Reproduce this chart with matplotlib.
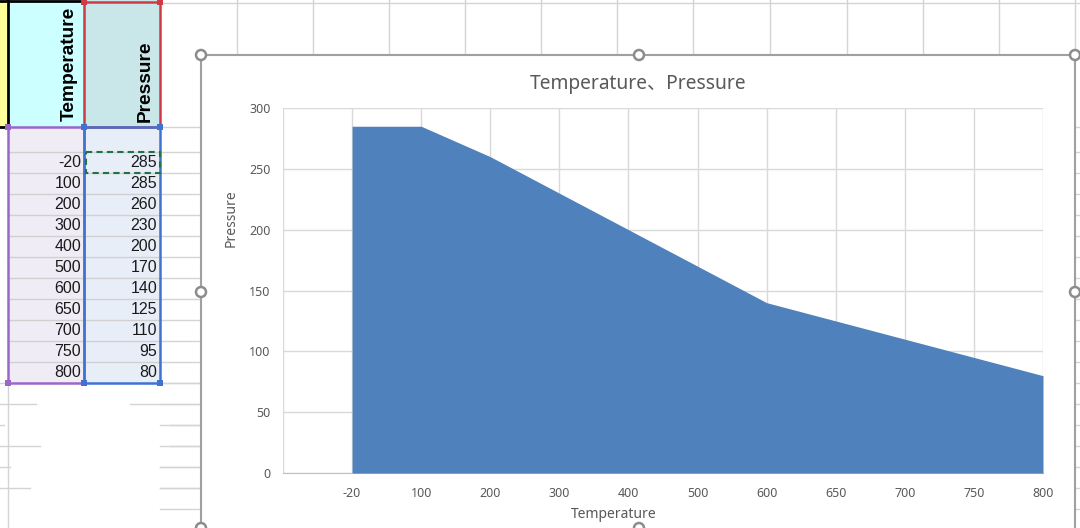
import numpy as np
import matplotlib.pyplot as plt
from matplotlib.patches import Rectangle, Circle

# 表格数据（从截图读取）
temperature = [-20, 100, 200, 300, 400, 500, 600, 650, 700, 750, 800]
pressure = [285, 285, 260, 230, 200, 170, 140, 125, 110, 95, 80]
y_ticks = [0, 50, 100, 150, 200, 250, 300]

W, H = 1080, 528
fig = plt.figure(figsize=(W / 100, H / 100), dpi=100)

# 背景：用像素坐标画 Excel 表格
bg = fig.add_axes([0, 0, 1, 1])
bg.set_xlim(0, W)
bg.set_ylim(H, 0)
bg.axis("off")

grid_c = "#d4d4d4"
row_h = 21
row0 = 152
rows = [row0 + i * row_h for i in range(len(temperature) + 7)]

# 工作表网格线
for x in [237, 313, 389, 465, 541, 617, 693, 770, 847, 923, 999, 1075]:
    bg.plot([x, x], [0, 55], color=grid_c, lw=1, zorder=1)
bg.plot([160, W], [3, 3], color=grid_c, lw=1, zorder=1)
for y in [127] + rows:
    bg.plot([160, 201], [y, y], color=grid_c, lw=1, zorder=1)
    bg.plot([1075, W], [y, y], color=grid_c, lw=1, zorder=1)
# 表格下方残缺的网格线
for y, segs in zip(rows[11:], [[(0, 4), (150, 200)], [(0, 36), (130, 200)],
                                 [(0, 4), (170, 200)], [(0, 40), (170, 200)],
                                 [(0, 10), (160, 200)], [(0, 30), (160, 200)]]):
    for a, b in segs:
        bg.plot([a, b], [y, y], color=grid_c, lw=1, zorder=1)
bg.plot([8, 8], [385, H], color=grid_c, lw=1, zorder=1)

# 表头
bg.add_patch(Rectangle((0, 0), 8, 127, fc="#ffff99", ec="none", zorder=2))
bg.add_patch(Rectangle((8, 0), 76, 127, fc="#ccffff", ec="none", zorder=2))
bg.add_patch(Rectangle((84, 0), 76, 127, fc="#c9e7e8", ec="none", zorder=2))
bg.plot([0, 84], [1, 1], color="black", lw=2, zorder=4)
bg.plot([8, 8], [0, 127], color="black", lw=2, zorder=4)
bg.plot([0, 8], [127, 127], color="black", lw=2, zorder=4)
bg.text(69, 121, "Temperature", rotation=90, ha="center", va="bottom",
        fontsize=13.8, fontweight="bold", family="Liberation Sans", zorder=5)
bg.text(145, 122, "Pressure", rotation=90, ha="center", va="bottom",
        fontsize=13.8, fontweight="bold", family="Liberation Sans", zorder=5)

# 数据区
n = len(temperature)
top, bot = 127, row0 + n * row_h
bg.add_patch(Rectangle((8, top), 76, bot - top, fc="#f0ecf5", ec="none", zorder=2))
bg.add_patch(Rectangle((84, top), 76, bot - top, fc="#e8eef8", ec="none", zorder=2))
for y in rows[:n]:
    bg.plot([8, 160], [y, y], color="#d0d0d0", lw=1, zorder=3)
for i, (t, p) in enumerate(zip(temperature, pressure)):
    yc = row0 + (i + 0.5) * row_h
    bg.text(81, yc, str(t), ha="right", va="center", fontsize=11.5,
            family="Liberation Sans", color="#1a1a1a", zorder=5)
    bg.text(157, yc, str(p), ha="right", va="center", fontsize=11.5,
            family="Liberation Sans", color="#1a1a1a", zorder=5)

# 引用框
def ref_box(x0, y0, x1, y1, c):
    bg.add_patch(Rectangle((x0, y0), x1 - x0, y1 - y0, fc="none", ec=c, lw=1.8, zorder=6))
    for hx, hy in [(x0, y0), (x1, y0), (x0, y1), (x1, y1)]:
        bg.add_patch(Rectangle((hx - 3, hy - 3), 6, 6, fc=c, ec="none", zorder=7))

ref_box(84, 2, 160, 127, "#cf3a44")
ref_box(8, 127, 84, bot, "#9a66c8")
ref_box(84, 127, 160, bot, "#3f73d2")
bg.add_patch(Rectangle((86, row0), 74, row_h, fc="none", ec="#217346", lw=1.5,
                       ls=(0, (3, 2)), zorder=8))

# 图表外框
bg.add_patch(Rectangle((201, 55), 874, 500, fc="white", ec="#a0a0a0", lw=1.5, zorder=10))
for hx, hy in [(201, 55), (639, 55), (1075, 55), (201, 292), (1075, 292),
               (201, 528), (639, 528)]:
    bg.add_patch(Circle((hx, hy), 5, fc="white", ec="#8c8c8c", lw=1.8, zorder=11))

txt_c = "#595959"
fig.text(638 / W, 1 - 84 / H, "Temperature、Pressure", ha="center", va="center",
         fontsize=13.8, color=txt_c, family=["Noto Sans", "Noto Sans CJK SC"])
fig.text(231 / W, 1 - 218 / H, "Pressure", rotation=90, ha="center", va="center",
         fontsize=10, color=txt_c, family="Noto Sans")
fig.text(614 / W, 1 - 515 / H, "Temperature", ha="center", va="center",
         fontsize=10, color=txt_c, family="Noto Sans")

# 面积图（类别轴，前面有一个空类别）
ax = fig.add_axes([283 / W, 1 - 473 / H, (1043 - 283) / W, (473 - 108) / H])
x = np.arange(1, n + 1)
ax.fill_between(x, pressure, 0, color="#4f81bd", lw=0, zorder=3)
ax.set_xlim(0, n)
ax.set_ylim(0, 300)
ax.set_xticks(np.arange(0, n + 1))
ax.set_xticklabels([""] + [str(t) for t in temperature])
ax.set_yticks(y_ticks)
ax.grid(True, color="#d9d9d9", lw=1, zorder=0)
for s in ["top", "right", "left"]:
    ax.spines[s].set_visible(False)
ax.spines["bottom"].set_color("#bfbfbf")
ax.tick_params(length=0, labelsize=9, labelcolor=txt_c)
ax.tick_params(axis="x", pad=10)
ax.tick_params(axis="y", pad=9)
for lab in ax.get_xticklabels() + ax.get_yticklabels():
    lab.set_family("Noto Sans")

fig.savefig("out.png", dpi=100)
